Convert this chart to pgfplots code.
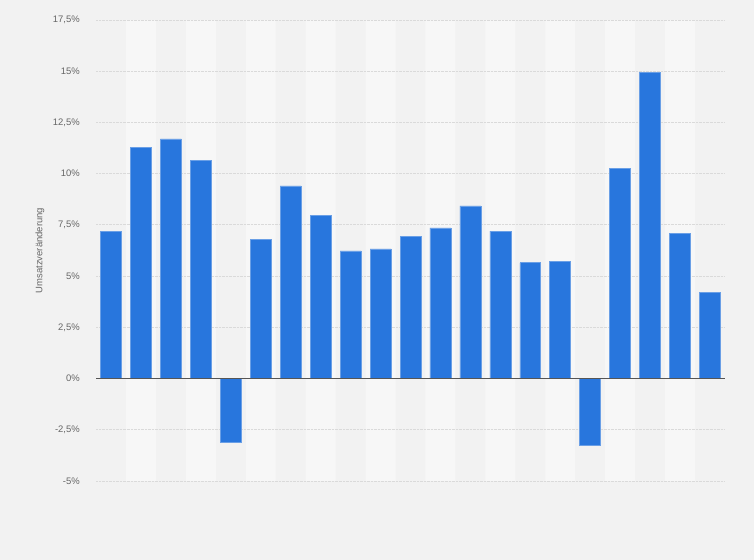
\documentclass[border=0pt]{standalone}
\usepackage{pgfplots}
\pgfplotsset{compat=1.18}
\usepackage{fontspec}
\setmainfont{Liberation Sans}
\definecolor{bg}{HTML}{F2F2F2}
\definecolor{band}{HTML}{F7F7F7}
\definecolor{barblue}{HTML}{2876DD}
\definecolor{baredge}{HTML}{6A9FE6}
\definecolor{txt}{HTML}{666666}
\definecolor{gridc}{HTML}{DADADA}
\definecolor{zeroc}{HTML}{555555}
\pagecolor{bg}

\begin{document}
\begin{tikzpicture}
\begin{axis}[
    set layers,
    at={(96bp,79bp)}, anchor=south west,
    width=629bp, height=461bp, scale only axis,
    xmin=-0.5, xmax=20.5,
    ymin=-5, ymax=17.5,
    xtick=\empty,
    ytick={-5,-2.5,0,2.5,5,7.5,10,12.5,15,17.5},
    major tick length=0pt,
    axis line style={draw=none},
    ymajorgrids,
    grid style={gridc, densely dotted, line width=0.8bp},
    font=\fontsize{9.5}{11}\selectfont,
    /pgf/number format/assume math mode=true,
    /pgf/number format/use comma,
    /pgf/number format/fixed,
    /pgf/number format/precision=1,
    yticklabel={\pgfmathprintnumber{\tick}\%},
    yticklabel style={txt, anchor=east, inner sep=0pt, xshift=-16bp},
    ylabel={Umsatzveränderung},
    ylabel style={txt, at={(axis description cs:-0.089,0.5)}, anchor=center},
]

% Hintergrundstreifen
\addplot[ybar, bar width=1, bar shift=0pt, fill=band, draw=none, forget plot, on layer=axis background]
  coordinates {(1,17.5)(3,17.5)(5,17.5)(7,17.5)(9,17.5)(11,17.5)(13,17.5)(15,17.5)(17,17.5)(19,17.5)};
\addplot[ybar, bar width=1, bar shift=0pt, fill=band, draw=none, forget plot, on layer=axis background]
  coordinates {(1,-5)(3,-5)(5,-5)(7,-5)(9,-5)(11,-5)(13,-5)(15,-5)(17,-5)(19,-5)};

% Umsatzveraenderung
\addplot[ybar, bar width=0.7, bar shift=0pt, fill=barblue, draw=baredge, line width=0.6bp] coordinates {
    (0,7.2)
    (1,11.3)
    (2,11.7)
    (3,10.65)
    (4,-3.12)
    (5,6.8)
    (6,9.4)
    (7,7.95)
    (8,6.23)
    (9,6.33)
    (10,6.92)
    (11,7.35)
    (12,8.43)
    (13,7.2)
    (14,5.65)
    (15,5.73)
    (16,-3.25)
    (17,10.24)
    (18,14.95)
    (19,7.1)
    (20,4.22)
};

% Nulllinie
\addplot[zeroc, line width=1.6bp, forget plot] coordinates {(-0.5,0)(20.5,0)};
\end{axis}
\path (0,0) rectangle (754bp,560bp);
\end{tikzpicture}
\end{document}
